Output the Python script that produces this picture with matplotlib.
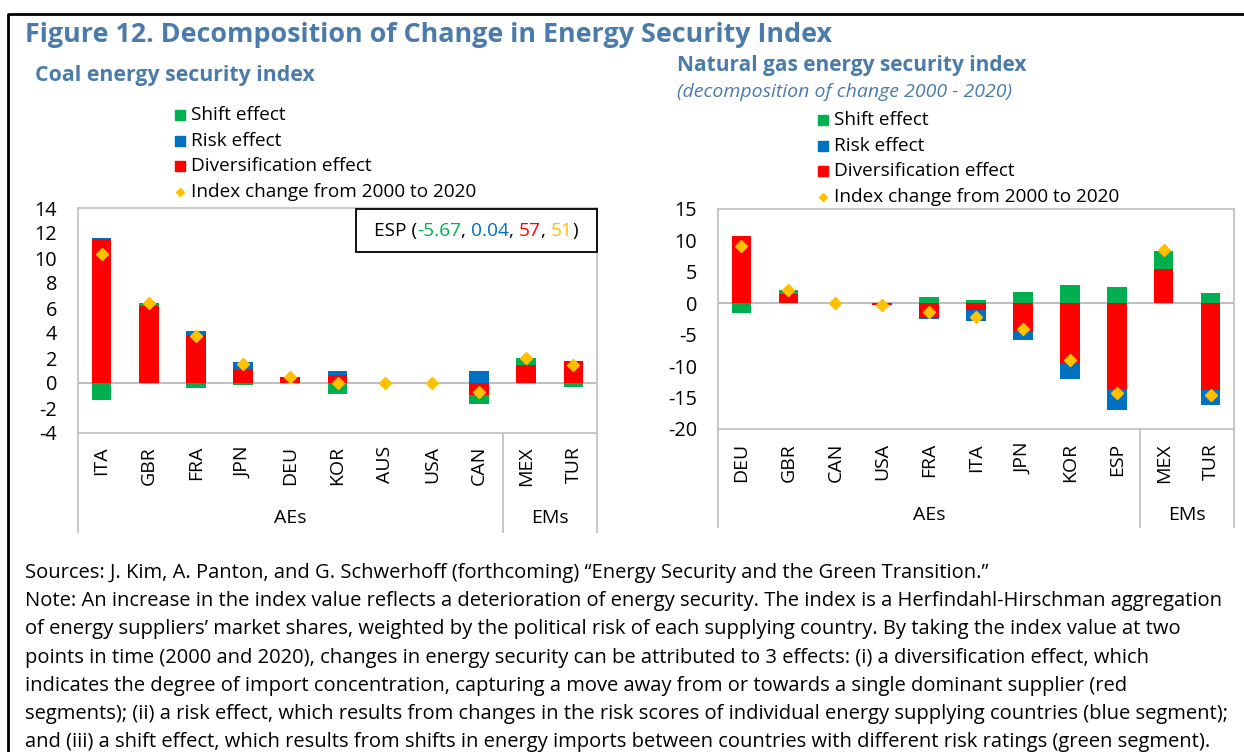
import numpy as np
import matplotlib.pyplot as plt
import matplotlib.transforms as mtransforms
from matplotlib.patches import Rectangle
from matplotlib.lines import Line2D
from matplotlib.offsetbox import TextArea, HPacker, AnnotationBbox

plt.rcParams['font.family'] = ['Open Sans', 'DejaVu Sans']
plt.rcParams['axes.unicode_minus'] = False

# Coal energy security index
coal_countries = ['ITA', 'GBR', 'FRA', 'JPN', 'DEU', 'KOR', 'AUS', 'USA', 'CAN', 'MEX', 'TUR']
coal_div = [11.5, 6.2, 3.87, 1.05, 0.46, 0.62, 0, 0, -0.97, 1.45, 1.8]
coal_risk = [0.13, 0, 0.32, 0.64, 0, 0.32, 0, 0, 0.94, 0, 0]
coal_shift = [-1.32, 0.18, -0.4, -0.16, 0, -0.89, 0, 0, -0.73, 0.54, -0.32]
coal_index = [10.35, 6.38, 3.76, 1.5, 0.47, 0.03, -0.03, -0.03, -0.75, 2.0, 1.48]

# Natural gas energy security index
gas_countries = ['DEU', 'GBR', 'CAN', 'USA', 'FRA', 'ITA', 'JPN', 'KOR', 'ESP', 'MEX', 'TUR']
gas_div = [10.63, 1.53, 0, -0.2, -2.27, -1.11, -4.44, -9.52, -13.7, 5.43, -13.8]
gas_risk = [0, 0, 0, 0, -0.26, -1.69, -1.48, -2.59, -3.28, 0, -2.43]
gas_shift = [-1.48, 0.64, 0, 0, 1.05, 0.57, 1.75, 2.95, 2.52, 2.96, 1.64]
gas_index = [9.15, 2.17, 0.0, -0.22, -1.43, -2.17, -4.12, -9.1, -14.35, 8.45, -14.6]

groups = [('AEs', 0, 8), ('EMs', 9, 10)]

legend_labels = ['Shift effect', 'Risk effect', 'Diversification effect', 'Index change from 2000 to 2020']
green, blue, red, gold = '#00B050', '#0070C0', '#FF0000', '#FFC000'
title_col = '#4a7bab'
grey = '#bfbfbf'

W, H = 1244, 752
fig = plt.figure(figsize=(W / 100, H / 100), dpi=100)


def fx(x):
    return x / W


def fy(y):
    return 1 - y / H


def draw_panel(rect, countries, div, risk, shift, index, ylim, yticks, lab_top, grp_y, line_end):
    x0, y0, x1, y1 = rect
    ax = fig.add_axes([fx(x0), fy(y1), fx(x1 - x0), (y1 - y0) / H])
    x = np.arange(len(countries))
    pos = np.zeros(len(x))
    neg = np.zeros(len(x))
    # stack order: diversification, risk, shift (positives up, negatives down)
    for vals, c in [(div, red), (risk, blue), (shift, green)]:
        v = np.asarray(vals, float)
        bottom = np.where(v >= 0, pos, neg)
        ax.bar(x, v, bottom=bottom, width=0.42, color=c, zorder=2)
        pos += np.where(v > 0, v, 0)
        neg += np.where(v < 0, v, 0)
    ax.axhline(0, color=grey, lw=1.5, zorder=1)
    ax.plot(x, index, ls='none', marker='D', ms=6.5, color=gold, zorder=4)
    ax.set_xlim(-0.5, len(x) - 0.5)
    ax.set_ylim(*ylim)
    ax.set_yticks(yticks)
    ax.set_yticklabels([str(t) for t in yticks])
    ax.set_xticks([])
    ax.tick_params(axis='y', length=0, pad=15, labelsize=14.3)
    for s in ax.spines.values():
        s.set_color(grey)
        s.set_linewidth(1.2)

    tr = mtransforms.blended_transform_factory(ax.transData, fig.transFigure)
    for i, c in enumerate(countries):
        ax.text(i, fy(lab_top), c, rotation=90, ha='center', va='top',
                fontsize=14, transform=tr, clip_on=False)
    for name, a, b in groups:
        ax.text((a + b) / 2, fy(grp_y), name, ha='center', va='center',
                fontsize=14, transform=tr, clip_on=False)
    for xs in [-0.5, 8.5, len(x) - 0.5]:
        ax.add_line(Line2D([xs, xs], [fy(y1), fy(line_end)], color=grey, lw=1.2,
                           transform=tr, clip_on=False))
    return ax


ax1 = draw_panel((78, 208, 597, 433), coal_countries, coal_div, coal_risk, coal_shift,
                 coal_index, (-4, 14), list(range(-4, 15, 2)), 446, 518, 532)
ax2 = draw_panel((718, 209, 1234, 429), gas_countries, gas_div, gas_risk, gas_shift,
                 gas_index, (-20, 15), list(range(-20, 16, 5)), 443, 515, 527)

# ESP annotation box
fig.add_artist(Rectangle((fx(356), fy(252)), fx(597 - 356), (252 - 209) / H,
                         transform=fig.transFigure, fill=False, ec='black', lw=1.3, zorder=5))
parts = [('ESP (', 'black'), ('-5.67', green), (', ', 'black'), ('0.04', blue),
         (', ', 'black'), ('57', red), (', ', 'black'), ('51', gold), (')', 'black')]
box = HPacker(children=[TextArea(t, textprops=dict(color=c, fontsize=13.8)) for t, c in parts],
              align='center', pad=0, sep=0)
fig.add_artist(AnnotationBbox(box, (fx(476), fy(231)), xycoords='figure fraction',
                              frameon=False, box_alignment=(0.5, 0.5)))

# legends
for lx, ly in [(175, 115), (818, 120)]:
    for k, (lab, c) in enumerate(zip(legend_labels, [green, blue, red, gold])):
        yy = ly + k * 25.7
        if k < 3:
            fig.add_artist(Rectangle((fx(lx), fy(yy + 5)), fx(10), 10 / H,
                                     transform=fig.transFigure, color=c))
        else:
            fig.add_artist(Line2D([fx(lx + 5)], [fy(yy)], marker='D', ms=4.5, color=c,
                                  ls='none', transform=fig.transFigure))
        fig.text(fx(lx + 16), fy(yy), lab, fontsize=13.7, va='center', ha='left')

# titles
fig.text(fx(25), fy(35), 'Figure 12. Decomposition of Change in Energy Security Index',
         fontsize=19.4, fontweight='bold', color=title_col, va='center')
fig.text(fx(35), fy(75), 'Coal energy security index', fontsize=15.3,
         fontweight='bold', color=title_col, va='center')
fig.text(fx(677), fy(65), 'Natural gas energy security index', fontsize=15,
         fontweight='bold', color=title_col, va='center')
fig.text(fx(677), fy(92), '(decomposition of change 2000 - 2020)', fontsize=14,
         style='italic', color=title_col, va='center')

notes = [
    'Sources: J. Kim, A. Panton, and G. Schwerhoff (forthcoming) \u201cEnergy Security and the Green Transition.\u201d',
    'Note: An increase in the index value reflects a deterioration of energy security. The index is a Herfindahl-Hirschman aggregation',
    'of energy suppliers\u2019 market shares, weighted by the political risk of each supplying country. By taking the index value at two',
    'points in time (2000 and 2020), changes in energy security can be attributed to 3 effects: (i) a diversification effect, which',
    'indicates the degree of import concentration, capturing a move away from or towards a single dominant supplier (red',
    'segments); (ii) a risk effect, which results from changes in the risk scores of individual energy supplying countries (blue segment);',
    'and (iii) a shift effect, which results from shifts in energy imports between countries with different risk ratings (green segment).',
]
for k, line in enumerate(notes):
    fig.text(fx(25), fy(573 + k * 28.2), line, fontsize=14.5, va='center', ha='left')

# outer frame
fig.add_artist(Line2D([fx(8), fx(8), fx(1250)], [fy(760), fy(14), fy(14)],
                      color='black', lw=2, transform=fig.transFigure))

fig.savefig('out.png', dpi=100)
